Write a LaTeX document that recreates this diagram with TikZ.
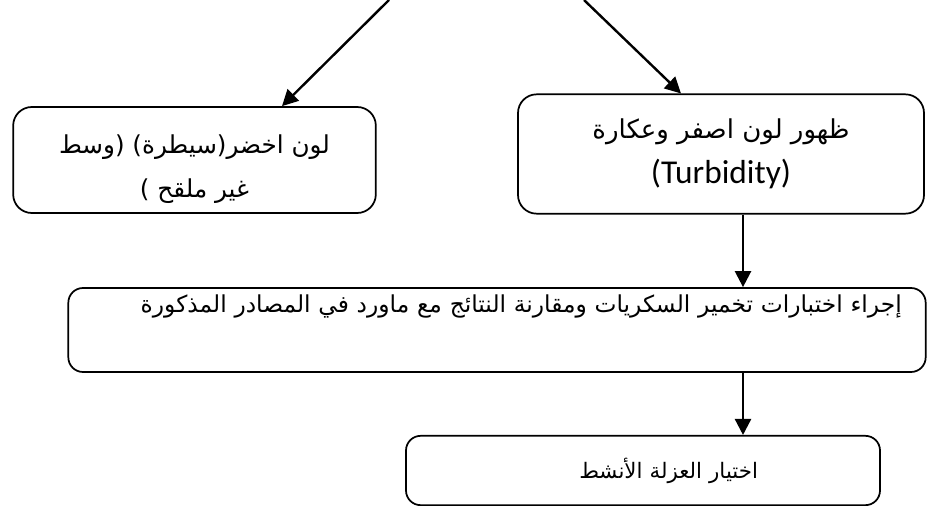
\documentclass[tikz,border=0pt]{standalone}
\usepackage{fontspec}
\setmainfont{Carlito}
\newfontfamily\arabicfont[Script=Arabic]{DejaVu Sans}
\TeXXeTstate=1
\usetikzlibrary{arrows.meta}

\begin{document}
\begin{tikzpicture}[x=0.75pt, y=-0.75pt,
	box/.style={draw, line width=1.3pt, rounded corners=14pt, inner sep=0pt, align=center},
	arr/.style={-{Triangle[length=12pt, width=12pt]}, line width=1.8pt}]

						\useasboundingbox (0,0) rectangle (928,506);

						\coordinate (A1) at (389,0);
						\coordinate (B1) at (584,0);
						\coordinate (A3) at (282,0);
						\coordinate (B3) at (681,0);
						\coordinate (M) at (743,0);

						\node[box, minimum width=272pt, minimum height=79.5pt, font=\fontsize{18.5}{33}\arabicfont] (A2) at (194.5,160)
							{\rule{0pt}{28pt}\beginR لون اخضر(سيطرة) (وسط\endR\\ \beginR غير ملقح )\endR};
						\node[box, minimum width=304.5pt, minimum height=89.5pt, font=\fontsize{19.5}{34}\selectfont] (B2) at (721,154)
							{{\arabicfont\beginR ظهور لون اصفر وعكارة\endR}\\ {\fontsize{25}{34}\selectfont (Turbidity)}};
						\node[box, rounded corners=11pt, minimum width=643pt, minimum height=63pt, text width=607pt, align=right,
							font=\fontsize{17.5}{20}\arabicfont] (C2) at (497,330)
							{\beginR إجراء اختبارات تخمير السكريات ومقارنة النتائج مع ماورد في المصادر المذكورة\endR\\[20pt]\mbox{}};
						\node[box, rounded corners=11pt, minimum width=355.5pt, minimum height=52pt, text width=172.5pt, align=right,
							font=\fontsize{16}{24}\arabicfont] (D2) at (643,470.5)
							{\beginR اختيار العزلة الأنشط\endR};

						\draw[arr] (A1) -- (A2.north -| A3);
						\draw[arr] (B1) -- (B2.north -| B3);
						\draw[arr] (B2.south -| M) -- (C2.north -| M);
						\draw[arr] (C2.south -| M) -- (D2.north -| M);

					\end{tikzpicture}
\end{document}
